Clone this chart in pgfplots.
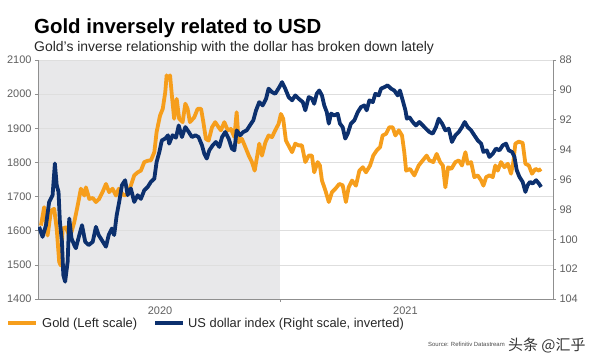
\documentclass[border=0pt]{standalone}
\usepackage{fontspec}
\setmainfont{Liberation Sans}
\newfontfamily\cjk{Noto Sans CJK SC}
\usepackage{pgfplots}
\pgfplotsset{compat=1.18}
\definecolor{goldc}{RGB}{246,158,28}
\definecolor{navyc}{RGB}{12,48,110}
\definecolor{bgshade}{RGB}{232,232,234}
\definecolor{tickc}{RGB}{95,95,95}
\definecolor{gridc}{RGB}{222,222,222}
\begin{document}
\begin{tikzpicture}
\path[use as bounding box] (0bp,0bp) rectangle (600bp,360bp);
\fill[bgshade] (38bp,61bp) rectangle (280bp,300bp);
\node[anchor=base west,inner sep=0] at (34bp,326bp) {\fontsize{20.5}{22}\selectfont\bfseries Gold inversely related to USD};
\node[anchor=base west,inner sep=0,text=black!85] at (34bp,308bp) {\fontsize{14}{16}\selectfont Gold's inverse relationship with the dollar has broken down lately};
\begin{axis}[
  at={(38bp,61bp)}, anchor=south west,
  scale only axis, width=515bp, height=239bp,
  xmin=1.39, xmax=23.97, ymin=1400, ymax=2100,
  axis y line*=left, axis x line*=bottom,
  axis line style={color=tickc!70, line width=0.6pt},
  xtick={12}, xticklabels={},
  ytick distance=100,
  tick align=outside, major tick length=3bp,
  tick style={color=tickc!70, line width=0.6pt},
  ymajorgrids, grid style={color=gridc, line width=0.5pt},
  ticklabel style={font=\fontsize{11}{12}\selectfont, text=tickc},
  /pgf/number format/assume math mode=true,
  /pgf/number format/set thousands separator={},
  clip=false,
]
\addplot[goldc, line width=3.8bp, line join=round] coordinates {
(1.52,1615) (1.66,1669) (1.81,1586) (1.96,1659) (2.10,1664) (2.21,1606) (2.32,1508) (2.39,1498) (2.47,1606) (2.61,1610) (2.79,1580) (2.98,1625) (3.13,1674) (3.27,1723) (3.42,1703) (3.49,1727) (3.64,1693) (3.79,1696) (3.93,1684) (4.07,1693) (4.22,1713) (4.37,1737) (4.51,1713) (4.66,1723) (4.81,1703) (4.93,1723) (5.03,1713) (5.17,1703) (5.32,1708) (5.46,1732) (5.61,1762) (5.76,1771) (5.90,1776) (6.05,1801) (6.20,1805) (6.34,1806) (6.49,1830) (6.59,1889) (6.74,1937) (6.86,1957) (6.97,2006) (7.03,2055) (7.07,2045) (7.18,2055) (7.26,1996) (7.36,1928) (7.47,1986) (7.58,1928) (7.73,1918) (7.85,1972) (7.95,1957) (8.05,1918) (8.24,1932) (8.39,1957) (8.54,1957) (8.64,1918) (8.75,1869) (8.87,1864) (9.02,1903) (9.16,1918) (9.31,1903) (9.41,1894) (9.56,1918) (9.71,1894) (9.85,1898) (10.00,1874) (10.10,1947) (10.19,1859) (10.33,1869) (10.48,1845) (10.63,1820) (10.77,1801) (10.89,1776) (10.98,1811) (11.09,1855) (11.21,1820) (11.36,1859) (11.50,1879) (11.65,1874) (11.79,1894) (11.94,1913) (12.04,1942) (12.14,1928) (12.26,1864) (12.41,1845) (12.53,1830) (12.67,1855) (12.82,1850) (12.96,1850) (13.11,1801) (13.26,1820) (13.40,1820) (13.50,1771) (13.65,1801) (13.75,1791) (13.84,1747) (13.99,1718) (14.14,1684) (14.28,1713) (14.43,1723) (14.60,1737) (14.75,1733) (14.89,1684) (15.01,1727) (15.16,1747) (15.33,1732) (15.48,1776) (15.63,1786) (15.77,1771) (15.95,1791) (16.09,1820) (16.24,1835) (16.39,1845) (16.50,1879) (16.65,1884) (16.79,1903) (16.94,1903) (17.06,1879) (17.21,1894) (17.35,1879) (17.45,1830) (17.53,1776) (17.70,1781) (17.89,1762) (18.08,1791) (18.26,1806) (18.43,1820) (18.55,1806) (18.72,1801) (18.87,1825) (19.02,1801) (19.14,1791) (19.25,1727) (19.37,1786) (19.51,1781) (19.69,1801) (19.84,1806) (19.98,1791) (20.13,1830) (20.23,1796) (20.38,1801) (20.52,1757) (20.67,1762) (20.82,1747) (20.92,1732) (21.04,1757) (21.18,1762) (21.33,1757) (21.44,1791) (21.55,1776) (21.69,1801) (21.84,1786) (21.99,1796) (22.13,1767) (22.23,1801) (22.32,1855) (22.47,1861) (22.64,1857) (22.76,1796) (22.91,1791) (23.05,1767) (23.20,1781) (23.35,1776) (23.45,1781)
};
\node[anchor=base,text=tickc,font=\fontsize{11}{12}\selectfont,yshift=-16bp] at (axis cs:6.74,1400) {2020};
\node[anchor=base,text=tickc,font=\fontsize{11}{12}\selectfont,yshift=-16bp] at (axis cs:17.5,1400) {2021};
\end{axis}
\begin{axis}[
  at={(38bp,61bp)}, anchor=south west,
  scale only axis, width=515bp, height=239bp,
  xmin=1.39, xmax=23.97, ymin=88, ymax=104,
  y dir=reverse,
  axis y line*=right, axis x line=none,
  axis line style={color=tickc!70, line width=0.6pt},
  ytick distance=2,
  tick align=outside, major tick length=3bp,
  tick style={color=tickc!70, line width=0.6pt},
  ticklabel style={font=\fontsize{11}{12}\selectfont, text=tickc},
  /pgf/number format/assume math mode=true,
]
\addplot[navyc, line width=3.8bp, line join=round] coordinates {
(1.44,99.17) (1.59,99.84) (1.74,99.06) (1.88,97.50) (2.03,97.05) (2.13,94.93) (2.21,96.38) (2.29,96.83) (2.35,98.83) (2.44,100.17) (2.50,102.40) (2.58,102.84) (2.69,101.51) (2.76,98.61) (2.86,99.94) (2.98,100.39) (3.05,100.6) (3.20,99.72) (3.32,99.06) (3.46,100.17) (3.61,100.39) (3.79,100.17) (3.93,99.17) (4.05,99.72) (4.19,100.06) (4.37,100.5) (4.49,99.72) (4.63,99.28) (4.73,99.72) (4.84,98.39) (4.95,97.50) (5.07,96.38) (5.21,96.05) (5.32,97.05) (5.46,96.60) (5.61,97.50) (5.76,97.05) (5.90,97.3) (6.05,96.72) (6.20,96.50) (6.34,96.16) (6.49,95.94) (6.59,94.83) (6.71,94.16) (6.82,93.38) (6.97,93.26) (7.09,93.04) (7.14,93.60) (7.29,93.04) (7.44,93.2) (7.56,92.38) (7.70,93.16) (7.85,92.49) (8.00,92.82) (8.14,93.16) (8.29,93.04) (8.43,93.16) (8.58,93.71) (8.68,94.27) (8.79,94.60) (8.90,94.05) (9.05,93.71) (9.19,93.49) (9.34,93.82) (9.46,93.16) (9.60,92.82) (9.75,93.26) (9.89,93.93) (10.00,94.05) (10.10,92.71) (10.25,93.04) (10.39,92.82) (10.54,92.71) (10.68,92.38) (10.83,92.04) (10.95,91.37) (11.09,90.82) (11.24,91.04) (11.39,90.59) (11.50,89.92) (11.65,90.15) (11.79,90.26) (11.97,89.82) (12.09,89.48) (12.23,89.92) (12.38,90.48) (12.53,90.7) (12.67,90.37) (12.82,90.59) (13.00,90.82) (13.11,91.37) (13.26,90.48) (13.40,90.59) (13.50,90.93) (13.61,90.26) (13.72,90.04) (13.84,90.37) (13.94,91.04) (14.05,91.48) (14.14,92.26) (14.24,91.59) (14.38,91.71) (14.53,91.6) (14.63,92.26) (14.75,92.5) (14.86,93.26) (14.97,92.93) (15.11,92.26) (15.26,92.04) (15.41,91.49) (15.55,91.15) (15.70,91.04) (15.80,91.37) (15.92,90.7) (16.07,90.82) (16.18,90.26) (16.33,90.37) (16.43,89.92) (16.57,89.82) (16.72,89.70) (16.87,89.92) (17.01,90.04) (17.16,90.37) (17.26,90.04) (17.38,90.70) (17.50,91.37) (17.56,91.93) (17.67,91.82) (17.82,92.15) (17.96,92.38) (18.11,92.15) (18.26,92.38) (18.40,92.6) (18.55,92.82) (18.70,92.93) (18.84,92.49) (18.96,91.93) (19.11,92.26) (19.25,92.71) (19.40,92.6) (19.54,93.49) (19.69,93.04) (19.84,92.82) (19.98,92.49) (20.10,92.15) (20.23,92.49) (20.38,92.71) (20.52,93.04) (20.67,93.38) (20.82,93.6) (20.92,94.16) (21.07,94.05) (21.18,94.49) (21.33,94.27) (21.47,93.93) (21.62,94.05) (21.77,93.71) (21.91,93.6) (22.03,94.05) (22.18,94.16) (22.28,94.49) (22.38,95.38) (22.50,95.83) (22.64,96.16) (22.76,96.83) (22.86,96.38) (22.96,96.16) (23.08,96.27) (23.23,96.05) (23.35,96.27) (23.45,96.5)
};
\end{axis}
\draw[goldc, line width=3.8bp] (8bp,37bp) -- (36bp,37bp);
\node[anchor=base west, inner sep=0, font=\fontsize{13}{15}\selectfont, text=black!85] at (42bp,32.5bp) {Gold (Left scale)};
\draw[navyc, line width=3.8bp] (155bp,37bp) -- (183bp,37bp);
\node[anchor=base west, inner sep=0, font=\fontsize{12.9}{15}\selectfont, text=black!85] at (188bp,32.5bp) {US dollar index (Right scale, inverted)};
\node[anchor=base east, inner sep=0, font=\fontsize{6}{7}\selectfont, text=black!70] at (505bp,14bp) {Source: Refinitiv Datastream};
\node[anchor=base west, inner sep=0, font=\fontsize{15}{16}\selectfont\cjk, text=black!80] at (508bp,10bp) {头条 @汇乎};
\end{tikzpicture}
\end{document}
